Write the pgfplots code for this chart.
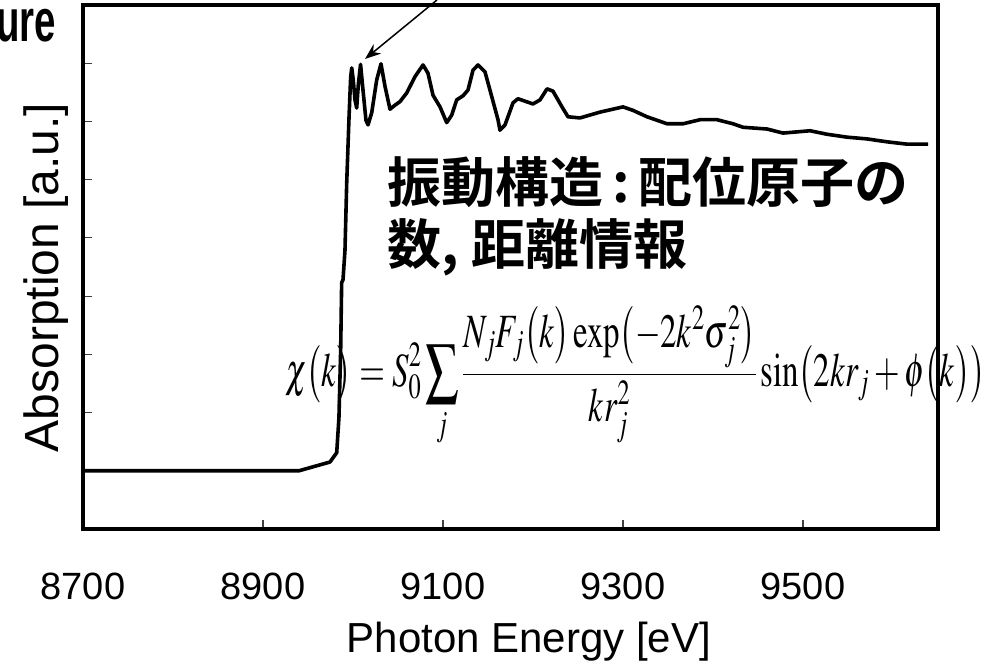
\documentclass[border=0pt]{standalone}
\usepackage{mathptmx}
\usepackage[no-math]{fontspec}
\setmainfont{Liberation Sans}
\newfontfamily\cjk{Noto Sans CJK JP}[BoldFont={Noto Sans CJK JP Bold}]
\usepackage{graphicx}
\usepackage{pgfplots}
\pgfplotsset{compat=1.18}
\usetikzlibrary{arrows.meta}

% XANES / EXAFS absorption spectrum
\pgfplotstableread{
E      mu
8700   1.00
8940   1.00
8974.4 1.15
8981.9 1.31
8984.4 1.92
8986.3 3.07
8987.4 4.23
8988.9 4.28
8991.1 4.79
8993.0 5.94
8995.6 7.08
8997.4 7.76
8998.6 7.92
9000.3 7.71
9002.2 7.37
9004.1 7.23
9005.9 7.63
9008.4 7.98
9011.1 7.54
9014.4 7.02
9016.7 6.94
9020.8 7.15
9026.3 7.71
9031.1 7.99
9035.6 7.60
9041.1 7.21
9046.7 7.28
9052.2 7.34
9059.7 7.49
9068.9 7.77
9077.8 7.97
9083.3 7.83
9088.9 7.45
9096.7 7.25
9104.1 6.98
9109.7 7.11
9115.2 7.37
9122.2 7.44
9127.8 7.54
9133.3 7.88
9138.9 7.97
9146.7 7.85
9154.1 7.43
9161.1 7.03
9163.3 6.85
9168.9 6.94
9177.8 7.32
9183.3 7.39
9200.0 7.30
9207.8 7.37
9215.6 7.56
9222.2 7.52
9232.2 7.25
9238.9 7.08
9252.2 7.06
9274.4 7.16
9300.0 7.25
9311.1 7.19
9326.7 7.08
9348.9 6.96
9366.7 6.96
9385.6 7.03
9404.4 7.03
9422.2 6.96
9433.3 6.90
9460.0 6.87
9477.8 6.80
9507.8 6.84
9526.7 6.78
9548.9 6.73
9571.1 6.70
9593.3 6.65
9615.6 6.61
9638.9 6.61
}\spectrum

\begin{document}
\begin{tikzpicture}[x=1pt,y=1pt]
\useasboundingbox (0,0) rectangle (994,668);
\begin{axis}[
  at={(83pt,139pt)}, anchor=south west,
  scale only axis, width=855pt, height=524pt,
  xmin=8700, xmax=9650, ymin=0, ymax=9,
  axis line style={line width=3.5pt},
  tick pos=left, tick align=inside,
  major tick length=9pt,
  tick style={line width=1.2pt, black!75},
  xtick={8700,8900,9100,9300,9500},
  xticklabels={8700,8900,9100,9300,9500},
  xticklabel style={font=\fontsize{38}{38}\selectfont, inner sep=0pt, anchor=north, yshift=-44pt},
  ytick={1,2,3,4,5,6,7,8},
  yticklabels={},
  xlabel={Photon Energy [eV]},
  xlabel style={font=\fontsize{42}{42}\selectfont, at={(axis description cs:0.5216,-0.2366)}, anchor=base},
  ylabel={Absorption [a.u.]},
  ylabel style={font=\fontsize{48}{48}\selectfont, at={(axis description cs:-0.0292,0.48)}, anchor=base},
]
\addplot[line width=3.6pt, black, line join=round] table[x=E, y=mu] {\spectrum};
\end{axis}

% annotations
\node[anchor=base east, xscale=0.64, font=\fontsize{60}{60}\selectfont\bfseries, inner sep=0pt] at (56,626) {ure};
\draw[line width=1.5pt, -{Stealth[length=16pt,width=12pt]}] (437,668) -- (365,609);
\node[anchor=base west, inner sep=0pt, font=\cjk\bfseries\fontsize{54}{54}\selectfont] at (387,465) {振動構造\hspace{9pt}:\hspace{9pt}配位原子の};
\node[anchor=base west, inner sep=0pt, font=\cjk\bfseries\fontsize{54}{54}\selectfont] at (387,403) {数, 距離情報};
\node[anchor=north west, inner sep=0pt, font=\fontsize{38}{40}\selectfont] at (285,362)
  {\resizebox*{700pt}{141pt}{$\displaystyle \chi\bigl(k\bigr) = S_0^2\sum_j \frac{N_jF_j\bigl(k\bigr)\exp\bigl(-2k^2\sigma_j^2\bigr)}{kr_j^2}\sin\bigl(2kr_j+\phi\bigl(k\bigr)\bigr)$}};
\end{tikzpicture}
\end{document}
